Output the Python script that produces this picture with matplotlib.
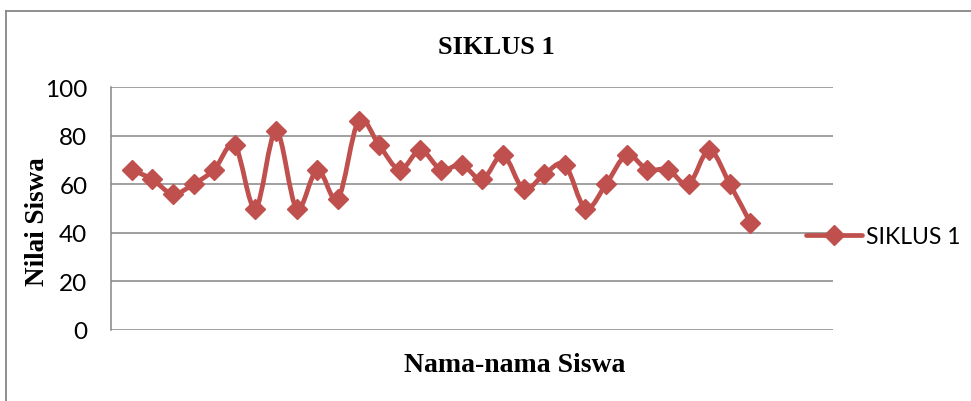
import numpy as np
import matplotlib
matplotlib.use('Agg')
import matplotlib.pyplot as plt
from matplotlib.path import Path
from matplotlib.patches import PathPatch
from matplotlib.lines import Line2D

# data
students = list(range(1, 32))
siklus1 = [66, 62, 56, 60, 66, 76, 50, 82, 50, 66,
           54, 86, 76, 66, 74, 66, 68, 62, 72, 58,
           64, 68, 50, 60, 72, 66, 66, 60, 74, 60,
           44]
y_ticks = [0, 20, 40, 60, 80, 100]

title_text = 'SIKLUS 1'
series_name = 'SIKLUS 1'
x_label = 'Nama-nama Siswa'
y_label = 'Nilai Siswa'

red = '#C0504D'
grid_gray = '#868686'
serif = ['Liberation Serif', 'DejaVu Serif']
sans = ['Lato', 'DejaVu Sans']


def smooth_path(x, y, tension=1.0 / 6.0):
    '''
    bezier path through the points, similar to the excel "smoothed line"
    '''
    pts = np.column_stack([x, y]).astype(float)
    n = len(pts)
    verts = [pts[0]]
    codes = [Path.MOVETO]
    for i in range(n - 1):
        p0 = pts[max(i - 1, 0)]
        p1 = pts[i]
        p2 = pts[i + 1]
        p3 = pts[min(i + 2, n - 1)]
        c1 = p1 + (p2 - p0) * tension
        c2 = p2 - (p3 - p1) * tension
        verts += [c1, c2, p2]
        codes += [Path.CURVE4] * 3
    return Path(verts, codes)


fig = plt.figure(figsize=(9.71, 4.02), dpi=100)
ax = fig.add_axes([111 / 971, 1 - 331 / 402, (833 - 111) / 971, (331 - 88) / 402])

# outer chart frame (cropped on right and bottom)
fig.add_artist(Line2D([0.0062, 1.0], [0.970, 0.970], transform=fig.transFigure,
                      color=grid_gray, lw=1.3))
fig.add_artist(Line2D([0.0062, 0.0062], [0.0, 0.970], transform=fig.transFigure,
                      color=grid_gray, lw=1.3))

# gridlines
for t in y_ticks:
    ax.axhline(t, color=grid_gray, lw=1.1, zorder=1)

# smoothed line + markers
lw = 3.4
patch = PathPatch(smooth_path(students, siklus1), facecolor='none',
                  edgecolor=red, lw=lw, capstyle='round', joinstyle='round', zorder=3)
ax.add_patch(patch)
ax.plot(students, siklus1, linestyle='none', marker='D', markersize=10,
        color=red, zorder=4)

ax.set_xlim(0, 35)
ax.set_ylim(0, 100)
ax.set_yticks(y_ticks)
ax.set_yticklabels([str(t) for t in y_ticks], fontsize=17.5, family=sans)
ax.set_xticks([])
ax.tick_params(axis='y', length=0, pad=17)

for side in ['top', 'right', 'bottom']:
    ax.spines[side].set_visible(False)
ax.spines['left'].set_color(grid_gray)
ax.spines['left'].set_linewidth(1.1)

fig.text(496 / 971, 1 - 48 / 402, title_text, ha='center', va='center',
         fontsize=19, fontweight='bold', family=serif)
fig.text(515 / 971, 1 - 366 / 402, x_label, ha='center', va='center',
         fontsize=20, fontweight='bold', family=serif)
fig.text(38 / 971, 1 - 222 / 402, y_label, ha='center', va='center', rotation=90,
         fontsize=19.5, fontweight='bold', family=serif)

# legend
handle = Line2D([], [], color=red, lw=lw, marker='D', markersize=10,
                solid_capstyle='round')
leg = fig.legend([handle], [series_name], loc='center left',
                 bbox_to_anchor=(797 / 971, 1 - 238 / 402), frameon=False,
                 handlelength=2.45, handletextpad=0.17, borderaxespad=0,
                 prop={'family': sans, 'size': 16.5})

fig.savefig('out.png', dpi=100)
